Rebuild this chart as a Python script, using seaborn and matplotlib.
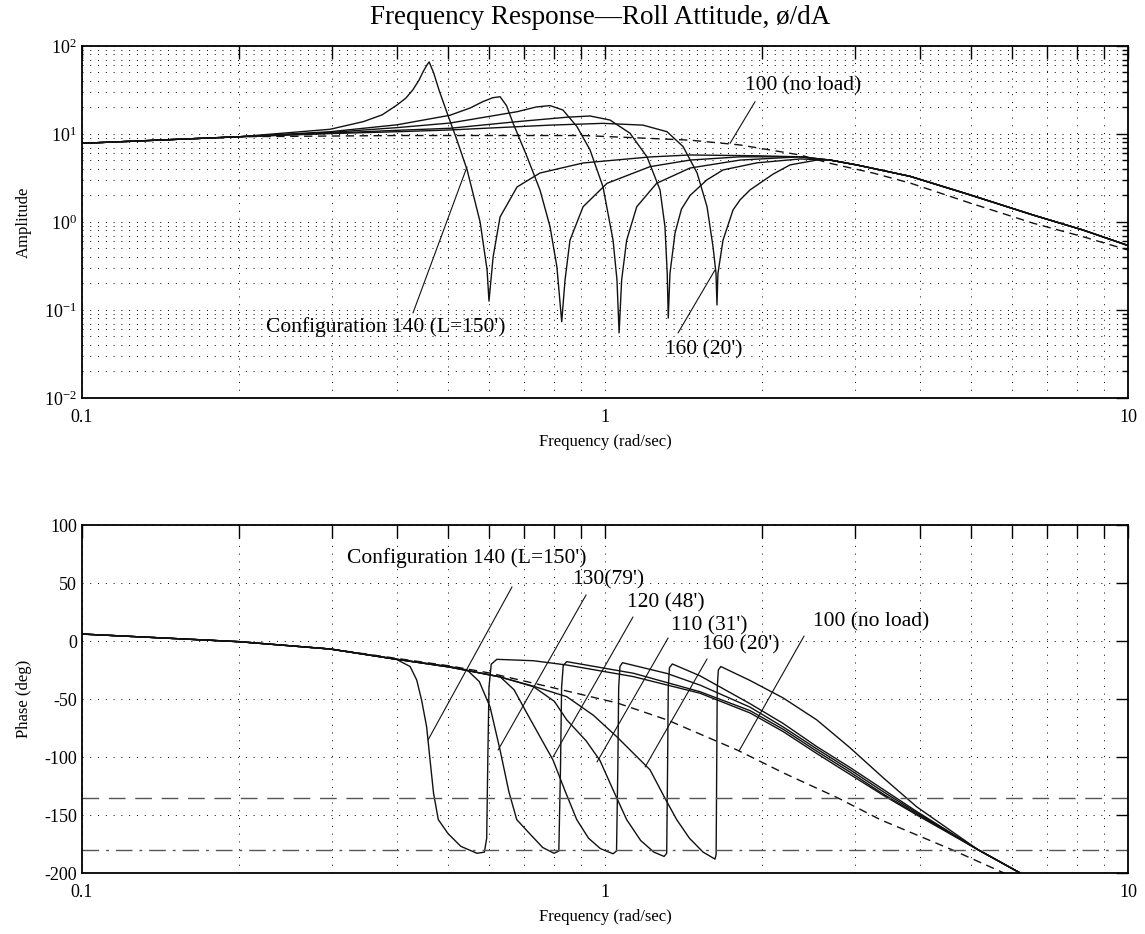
import matplotlib
matplotlib.use("Agg")
import matplotlib.pyplot as plt
from matplotlib.ticker import LogLocator, FixedLocator, NullFormatter, FixedFormatter
import seaborn as sns

# ---------------- amplitude data ----------------
mag_f_140 = [0.1, 0.2, 0.298, 0.345, 0.375, 0.40, 0.416, 0.429, 0.441, 0.449, 0.456, 0.461, 0.47, 0.482,
             0.499, 0.521, 0.545, 0.577, 0.595, 0.600, 0.611, 0.630, 0.679, 0.751, 0.908, 1.219, 1.454,
             1.953, 2.36]
mag_140 = [7.83, 9.3, 11.3, 13.8, 16.5, 21.3, 25.5, 31.6, 41, 51, 60, 65.8, 50, 31,
           17.3, 8.55, 3.9, 1.0, 0.285, 0.126, 0.40, 1.14, 2.5, 3.6, 4.68, 5.48, 5.77,
           5.65, 5.5]

mag_f_130 = [0.1, 0.2, 0.298, 0.40, 0.505, 0.552, 0.584, 0.610, 0.630, 0.648, 0.667, 0.7095, 0.751, 0.785,
             0.809, 0.8264, 0.8387, 0.857, 0.908, 1.009, 1.219, 1.454, 1.812, 2.36]
mag_130 = [7.83, 9.3, 10.6, 12.7, 16.3, 19.7, 23.3, 25.8, 26.5, 21, 13.3, 5.5, 2.31, 0.885,
           0.31, 0.0736, 0.22, 0.62, 1.49, 2.75, 4.25, 5.05, 5.5, 5.5]

mag_f_120 = [0.1, 0.2, 0.298, 0.40, 0.505, 0.679, 0.74, 0.785, 0.831, 0.884, 0.936, 0.991, 1.036, 1.054,
             1.064, 1.076, 1.10, 1.15, 1.255, 1.454, 1.812, 2.36]
mag_120 = [7.83, 9.3, 10.4, 11.8, 13.3, 17.9, 20.3, 21.0, 18.7, 12.1, 6.6, 2.52, 0.62, 0.22,
           0.055, 0.22, 0.62, 1.49, 2.75, 4.1, 5.05, 5.5]

mag_f_110 = [0.1, 0.2, 0.298, 0.40, 0.505, 0.679, 0.846, 0.936, 1.022, 1.116, 1.203, 1.274, 1.302,
             1.315, 1.321, 1.331, 1.361, 1.40, 1.454, 1.565, 1.681, 1.953, 2.36]
mag_110 = [7.83, 9.3, 10.2, 11.0, 11.6, 13.8, 15.5, 16.0, 14.4, 10.2, 5.5, 2.31, 0.885,
           0.26, 0.081, 0.26, 0.75, 1.4, 2.0, 3.0, 3.9, 4.7, 5.2]

mag_f_160 = [0.1, 0.2, 0.298, 0.40, 0.505, 0.785, 0.991, 1.182, 1.314, 1.41, 1.50, 1.567, 1.609,
             1.63, 1.637, 1.644, 1.681, 1.757, 1.812, 1.893, 2.096, 2.258, 2.54]
mag_160 = [7.83, 9.3, 10.1, 10.6, 11.1, 12.6, 13.2, 12.6, 10.6, 7.2, 3.6, 1.49, 0.52,
           0.26, 0.114, 0.26, 0.62, 1.37, 1.78, 2.31, 3.5, 4.45, 5.05]

# common high frequency part of the loaded configurations
mag_tail_f = [2.693, 3.027, 3.83, 4.99, 6.58, 8.2, 10.0]
mag_tail = [5.05, 4.45, 3.3, 2.03, 1.2, 0.81, 0.54]

# no load (dashed)
mag_f_100 = [0.1, 0.2, 0.4, 0.577, 0.908, 1.219, 1.454, 1.812, 2.36, 2.693, 3.253, 3.83, 4.99, 6.58, 8.2, 10.0]
mag_100 = [7.83, 9.3, 9.6, 9.6, 9.6, 8.9, 8.5, 7.5, 5.77, 4.64, 3.6, 2.77, 1.64, 0.97, 0.68, 0.48]

# ---------------- phase data (deg) ----------------
ph_f_140 = [0.1, 0.2, 0.298, 0.371, 0.40, 0.424, 0.4365, 0.446, 0.456, 0.463, 0.47, 0.48, 0.501, 0.53,
            0.569, 0.588, 0.594, 0.597, 0.600, 0.606, 0.621, 0.7295, 0.845, 1.133, 1.519, 1.893, 2.189,
            2.54, 2.94, 3.405, 3.945, 5.17, 6.22]
ph_140 = [6, -0.6, -6.9, -13.5, -16, -22, -33.6, -51, -74, -103, -131, -154, -166, -177,
          -183, -182, -170, -100, -40, -20, -15.8, -17, -20.7, -30.7, -45, -62, -78,
          -97, -115, -133, -150, -180, -200]

ph_f_130 = [0.1, 0.2, 0.298, 0.40, 0.505, 0.545, 0.575, 0.603, 0.63, 0.655, 0.678, 0.714, 0.76, 0.799,
            0.816, 0.822, 0.826, 0.832, 0.845, 1.133, 1.519, 1.893, 2.189, 2.54, 2.94, 3.405, 3.945,
            5.17, 6.22]
ph_130 = [6, -0.6, -6.9, -15.8, -22, -25, -35, -57, -94, -130, -154, -165, -178, -183,
          -181, -110, -40, -21, -17.8, -27.8, -43.7, -60, -76, -95, -113, -132, -149,
          -180, -200]

ph_f_120 = [0.1, 0.2, 0.298, 0.40, 0.505, 0.63, 0.67, 0.7085, 0.75, 0.7954, 0.84, 0.883, 0.93, 0.98,
            1.036, 1.052, 1.058, 1.062, 1.068, 1.08, 1.314, 1.519, 1.893, 2.189, 2.54, 2.94, 3.405,
            3.945, 5.17, 6.22]
ph_120 = [6, -0.6, -6.9, -15.8, -22.5, -30.8, -42, -62, -82, -102.6, -130, -154, -170, -179,
          -183.4, -181, -110, -40, -22, -18.7, -28, -38, -57, -74, -93, -111, -130,
          -148, -180, -200]

ph_f_110 = [0.1, 0.2, 0.298, 0.40, 0.505, 0.63, 0.73, 0.80, 0.845, 0.92, 0.978, 1.04, 1.10, 1.17,
            1.24, 1.297, 1.312, 1.317, 1.321, 1.328, 1.345, 1.519, 1.893, 2.189, 2.54, 2.94, 3.405,
            3.945, 5.17, 6.22]
ph_110 = [6, -0.6, -6.9, -15.8, -22.5, -31, -39.4, -52, -68, -86, -103, -130, -154, -172,
          -182, -185.7, -183, -110, -40, -23, -19.8, -30, -54, -71, -91, -109, -128,
          -147, -180, -200]

ph_f_160 = [0.1, 0.2, 0.298, 0.40, 0.505, 0.63, 0.73, 0.845, 0.95, 1.053, 1.219, 1.30, 1.371, 1.45,
            1.54, 1.623, 1.631, 1.635, 1.639, 1.647, 1.665, 1.893, 2.189, 2.54, 2.94, 3.405, 3.945,
            5.17, 6.22]
ph_160 = [6, -0.6, -6.9, -15.8, -22.5, -31, -39, -48, -64, -82.5, -111, -135, -154, -170,
          -182, -188, -184, -110, -40, -25, -22, -34, -49, -68, -92, -118, -143,
          -180, -200]

ph_f_100 = [0.1, 0.2, 0.3, 0.4, 0.505, 0.602, 0.785, 1.055, 1.314, 1.79, 2.2, 2.78, 3.36, 4.61, 5.79]
ph_100 = [6, -0.6, -7, -15, -21.5, -27.6, -39.7, -53.4, -68, -94, -114, -135, -154, -180, -200]

# ---------------- style ----------------
sns.set_theme(style="white")
plt.rcParams["font.family"] = ["Liberation Serif", "DejaVu Serif"]
plt.rcParams["mathtext.fontset"] = "custom"
plt.rcParams["mathtext.rm"] = "Liberation Serif"
plt.rcParams["axes.unicode_minus"] = False
plt.rcParams["text.color"] = "black"
plt.rcParams["axes.labelcolor"] = "black"

fig = plt.figure(figsize=(11.45, 9.34), dpi=100)
ax1 = fig.add_axes([0.0716, 0.5739, 0.9136, 0.3769])
ax2 = fig.add_axes([0.0716, 0.0653, 0.9136, 0.3726])

dot_grid = dict(color="black", linestyle=(0, (1, 7)), linewidth=0.7)
LINE = "#111111"
NOTE_FS = 15.5

# ---------------- amplitude panel ----------------
ax1.set_xscale("log")
ax1.set_yscale("log")
for f, m in [(mag_f_140, mag_140), (mag_f_130, mag_130), (mag_f_120, mag_120),
             (mag_f_110, mag_110), (mag_f_160, mag_160)]:
    sns.lineplot(x=f + mag_tail_f, y=m + mag_tail, ax=ax1, color=LINE, linewidth=1.0,
                 estimator=None, sort=False)
sns.lineplot(x=mag_f_100, y=mag_100, ax=ax1, color=LINE, linewidth=1.0,
             estimator=None, sort=False, linestyle=(0, (6, 4)))

ax1.set_xlim(0.1, 10)
ax1.set_ylim(1e-2, 1e2)
ax1.yaxis.set_major_locator(LogLocator(base=10, numticks=10))
ax1.yaxis.set_minor_locator(LogLocator(base=10, subs=range(2, 10), numticks=20))
ax1.yaxis.set_minor_formatter(NullFormatter())
ax1.grid(True, which="both", **dot_grid)
ax1.set_ylabel("Amplitude", fontsize=12)
ax1.set_xlabel("Frequency (rad/sec)", fontsize=12, labelpad=6)

ax1.text(1.852, 35.1, "100 (no load)", fontsize=NOTE_FS, ha="left", va="center")
ax1.plot([1.936, 1.734], [23.3, 7.83], color=LINE, lw=0.8)
ax1.text(0.3814, 0.064, "Configuration 140 (L=150')", fontsize=NOTE_FS, ha="center", va="center")
ax1.plot([0.4294, 0.5446], [0.0925, 4.22], color=LINE, lw=0.8)
ax1.text(1.546, 0.0351, "160 (20')", fontsize=NOTE_FS, ha="center", va="center")
ax1.plot([1.379, 1.623], [0.0548, 0.285], color=LINE, lw=0.8)

# ---------------- phase panel ----------------
ax2.set_xscale("log")
for f, p in [(ph_f_140, ph_140), (ph_f_130, ph_130), (ph_f_120, ph_120),
             (ph_f_110, ph_110), (ph_f_160, ph_160)]:
    sns.lineplot(x=f, y=p, ax=ax2, color=LINE, linewidth=1.0, estimator=None, sort=False)
sns.lineplot(x=ph_f_100, y=ph_100, ax=ax2, color=LINE, linewidth=1.0,
             estimator=None, sort=False, linestyle=(0, (6, 4)))
ax2.axhline(-135, color="#555555", lw=1.0, linestyle=(0, (12, 7)))
ax2.axhline(-180, color="#555555", lw=1.0, linestyle=(0, (12, 5, 2, 5)))

ax2.set_xlim(0.1, 10)
ax2.set_ylim(-200, 100)
ax2.yaxis.set_major_locator(FixedLocator([-200, -150, -100, -50, 0, 50, 100]))
ax2.grid(True, which="major", axis="y", **dot_grid)
ax2.grid(True, which="both", axis="x", **dot_grid)
ax2.set_ylabel("Phase (deg)", fontsize=12)
ax2.set_xlabel("Frequency (rad/sec)", fontsize=12, labelpad=6)

notes = [
    ("Configuration 140 (L=150')", 0.5435, 71.6, (0.664, 46.6), (0.4588, -85.3)),
    ("130(79')", 1.0155, 52.6, (0.920, 39.7), (0.6245, -94)),
    ("120 (48')", 1.305, 32.8, (1.131, 20.7), (0.7954, -100)),
    ("110 (31')", 1.58, 12.9, (1.32, 2.6), (0.9654, -104.3)),
    ("160 (20')", 1.82, -3.4, (1.567, -15.5), (1.193, -108.6)),
    ("100 (no load)", 3.226, 16.4, (2.402, 4.3), (1.804, -94.8)),
]
for label, tx, ty, p0, p1 in notes:
    ax2.text(tx, ty, label, fontsize=NOTE_FS, ha="center", va="center")
    ax2.plot([p0[0], p1[0]], [p0[1], p1[1]], color=LINE, lw=0.8)

# ---------------- shared axis cosmetics ----------------
for ax in (ax1, ax2):
    ax.xaxis.set_major_locator(FixedLocator([0.1, 1, 10]))
    ax.xaxis.set_major_formatter(FixedFormatter(["0.1", "1", "10"]))
    ax.xaxis.set_minor_locator(LogLocator(base=10, subs=range(2, 10), numticks=20))
    ax.xaxis.set_minor_formatter(NullFormatter())
    ax.tick_params(which="both", direction="in", top=True, right=True, colors="black",
                   labelsize=13, width=1.0)
    ax.tick_params(axis="x", which="both", length=9, pad=8)
    ax.tick_params(axis="y", which="major", length=9)
    ax.tick_params(axis="y", which="minor", length=4)
    for s in ax.spines.values():
        s.set_color("black")
        s.set_linewidth(1.3)
    ax.yaxis.set_label_coords(-0.048, 0.5)

fig.text(0.524, 0.981, "Frequency Response\u2014Roll Attitude, \u00f8/dA", fontsize=19.5,
         ha="center", va="center")

fig.savefig("out.png", dpi=100, facecolor="white")
